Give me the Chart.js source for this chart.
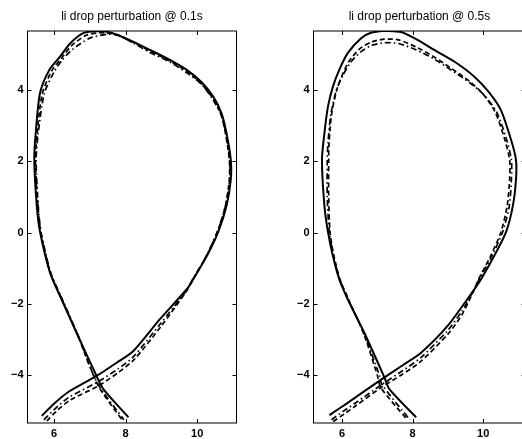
<!DOCTYPE html>
<html>
<head>
<meta charset="utf-8">
<script src="https://cdn.jsdelivr.net/npm/chart.js@4/dist/chart.umd.min.js"></script>
<style>
  html, body { margin: 0; padding: 0; background: #fff; overflow: hidden; }
  body { width: 522px; height: 439px; position: relative; }
  .panel { position: absolute; top: 0; height: 439px; }
</style>
</head>
<body>
<div class="panel" id="p1" style="left:0px; width:245px;"><canvas id="c1"></canvas></div>
<div class="panel" id="p2" style="left:286px; width:245px;"><canvas id="c2"></canvas></div>
<script>
// plasma boundary, [R, Z] pairs, traced from the lower left leg round the X-point
var titles = ["li drop perturbation @ 0.1s", "li drop perturbation @ 0.5s"];
var xTicks = [6, 8, 10];
var yTicks = [-4, -2, 0, 2, 4];

var solid01 = [
  [5.66, -5.14], [6.0, -4.8], [6.4, -4.47], [7.19, -4.02], [7.75, -3.65], [8.22, -3.32],
  [8.96, -2.43], [9.71, -1.59], [9.89, -1.31], [10.27, -0.66], [10.59, 0.02], [10.82, 0.74],
  [10.94, 1.48], [10.94, 2.04], [10.82, 2.79], [10.68, 3.35], [10.45, 3.81], [10.12, 4.22],
  [9.71, 4.56], [9.2, 4.86], [8.68, 5.12], [8.1, 5.4], [7.6, 5.6], [7.2, 5.64], [6.82, 5.59],
  [6.45, 5.3], [6.17, 4.93], [5.87, 4.56], [5.61, 3.91], [5.49, 2.79], [5.45, 2.04],
  [5.52, 0.74], [5.61, 0.02], [5.89, -1.13], [6.17, -1.78], [6.63, -2.81], [7.19, -4.02],
  [7.38, -4.39], [8.08, -5.18]
];
var dashed01 = [
  [5.8, -5.28], [6.1, -4.98], [6.45, -4.7], [7.24, -4.3], [7.8, -3.92], [8.25, -3.55],
  [9.0, -2.62], [9.7, -1.65], [9.88, -1.33], [10.25, -0.68], [10.56, 0.0], [10.79, 0.74],
  [10.9, 1.48], [10.9, 2.04], [10.79, 2.79], [10.66, 3.33], [10.43, 3.78], [10.1, 4.19],
  [9.7, 4.53], [9.2, 4.83], [8.7, 5.08], [8.15, 5.36], [7.7, 5.56], [7.3, 5.6], [6.9, 5.53],
  [6.5, 5.25], [6.22, 4.9], [5.93, 4.52], [5.67, 3.88], [5.53, 2.79], [5.48, 2.04],
  [5.55, 0.74], [5.63, 0.0], [5.9, -1.13], [6.18, -1.78], [6.65, -2.85], [7.24, -4.3],
  [7.9, -5.25]
];
var dashdot01 = [
  [5.72, -5.25], [6.05, -4.92], [6.42, -4.62], [7.2, -4.2], [7.78, -3.83], [8.22, -3.48],
  [8.98, -2.55], [9.7, -1.63], [9.87, -1.32], [10.25, -0.67], [10.56, 0.01], [10.79, 0.74],
  [10.91, 1.48], [10.91, 2.04], [10.8, 2.79], [10.66, 3.33], [10.42, 3.76], [10.1, 4.18],
  [9.68, 4.5], [9.2, 4.8], [8.68, 5.05], [8.2, 5.32], [7.8, 5.53], [7.5, 5.56], [7.0, 5.45],
  [6.5, 5.12], [6.2, 4.8], [6.0, 4.5], [5.73, 3.9], [5.56, 2.79], [5.5, 2.04], [5.56, 0.74],
  [5.64, 0.0], [5.91, -1.13], [6.2, -1.8], [6.66, -2.85], [7.2, -4.2], [7.95, -5.25]
];

var solid05 = [
  [5.64, -5.12], [6.05, -4.85], [6.44, -4.58], [7.2, -4.06], [7.75, -3.7], [8.24, -3.37],
  [8.99, -2.62], [9.75, -1.59], [9.94, -1.31], [10.31, -0.66], [10.65, 0.02], [10.84, 0.74],
  [10.93, 1.48], [10.93, 2.04], [10.79, 2.6], [10.5, 3.44], [10.15, 3.95], [9.75, 4.37],
  [9.2, 4.78], [8.61, 5.12], [8.1, 5.42], [7.67, 5.62], [7.2, 5.66], [6.82, 5.6], [6.54, 5.45],
  [6.16, 5.03], [5.92, 4.56], [5.74, 4.09], [5.6, 3.53], [5.5, 2.79], [5.43, 2.04],
  [5.5, 0.74], [5.6, 0.02], [5.74, -0.66], [5.92, -1.31], [6.16, -1.87], [6.63, -2.81],
  [7.2, -4.06], [7.34, -4.39], [8.1, -5.18]
];
var dashed05 = [
  [5.75, -5.3], [6.1, -5.06], [6.4, -4.85], [7.1, -4.35], [7.7, -3.98], [8.2, -3.64],
  [9.0, -2.85], [9.4, -2.3], [9.7, -1.7], [9.86, -1.33], [10.2, -0.68], [10.5, 0.0],
  [10.68, 0.74], [10.75, 1.48], [10.75, 2.04], [10.6, 2.65], [10.33, 3.4], [9.98, 3.9],
  [9.6, 4.25], [9.1, 4.6], [8.6, 4.93], [8.1, 5.2], [7.6, 5.4], [7.2, 5.42], [6.85, 5.35],
  [6.5, 5.15], [6.2, 4.8], [6.02, 4.45], [5.85, 4.0], [5.7, 3.3], [5.63, 2.5], [5.62, 2.0],
  [5.62, 1.0], [5.66, 0.0], [5.77, -0.66], [5.94, -1.31], [6.18, -1.87], [6.62, -2.85],
  [7.0, -4.0], [7.1, -4.35], [7.85, -5.25]
];
var dashdot05 = [
  [5.7, -5.25], [6.05, -5.0], [6.42, -4.75], [7.13, -4.26], [7.72, -3.87], [8.22, -3.52],
  [9.0, -2.74], [9.4, -2.2], [9.72, -1.65], [9.88, -1.32], [10.24, -0.67], [10.55, 0.01],
  [10.74, 0.74], [10.8, 1.48], [10.8, 2.04], [10.65, 2.65], [10.38, 3.38], [10.02, 3.86],
  [9.62, 4.2], [9.1, 4.55], [8.6, 4.87], [8.1, 5.12], [7.6, 5.3], [7.2, 5.32], [6.85, 5.25],
  [6.55, 5.08], [6.25, 4.78], [6.03, 4.42], [5.84, 4.0], [5.68, 3.3], [5.6, 2.5], [5.58, 2.0],
  [5.58, 1.0], [5.64, 0.0], [5.76, -0.66], [5.93, -1.31], [6.17, -1.86], [6.62, -2.83],
  [7.05, -3.98], [7.13, -4.26], [7.92, -5.25]
];

var xRanges = [[5.26, 11.1], [5.19, 11.2]];
var yRange = [-5.34, 5.65];

var fontFamily = "'Liberation Sans', Arial, Helvetica, sans-serif";

function pts(arr) {
  return arr.map(p => ({ x: p[0], y: p[1] }));
}

function lineSet(arr, dash, width) {
  return {
    data: pts(arr),
    showLine: true,
    borderColor: "#000",
    borderWidth: width,
    borderDash: dash,
    pointRadius: 0,
    tension: 0.25,
    fill: false,
  };
}

var frame = {
  id: "frame",
  afterDraw(chart, args, opts) {
    var ctx = chart.ctx;
    var a = chart.chartArea;
    var xs = chart.scales.x;
    var ys = chart.scales.y;
    ctx.save();
    ctx.strokeStyle = "#000";
    ctx.lineWidth = 1;
    ctx.strokeRect(a.left, a.top, a.right - a.left, a.bottom - a.top);
    ctx.beginPath();
    xTicks.forEach(v => {
      var px = Math.round(xs.getPixelForValue(v)) + 0.5;
      ctx.moveTo(px, a.bottom); ctx.lineTo(px, a.bottom - 4);
      ctx.moveTo(px, a.top); ctx.lineTo(px, a.top + 4);
    });
    yTicks.forEach(v => {
      var py = Math.round(ys.getPixelForValue(v)) + 0.5;
      ctx.moveTo(a.left, py); ctx.lineTo(a.left + 4, py);
      ctx.moveTo(a.right, py); ctx.lineTo(a.right - 4, py);
    });
    ctx.stroke();
    ctx.fillStyle = "#000";
    ctx.font = "12px " + fontFamily;
    ctx.textAlign = "center";
    ctx.textBaseline = "middle";
    ctx.fillText(opts.text, (a.left + a.right) / 2, 17);
    ctx.restore();
  }
};

function makeChart(id, idx, sets, padRight) {
  var ctx = document.getElementById(id).getContext("2d");
  return new Chart(ctx, {
    type: "scatter",
    data: { datasets: sets },
    options: {
      responsive: true,
      maintainAspectRatio: false,
      animation: false,
      layout: { padding: { top: 31, right: padRight, left: 0, bottom: 0 } },
      plugins: {
        legend: { display: false },
        tooltip: { enabled: false },
        title: { display: false },
        frame: { text: titles[idx] },
      },
      scales: {
        x: {
          type: "linear",
          min: xRanges[idx][0],
          max: xRanges[idx][1],
          grid: { display: false, drawTicks: false },
          border: { display: false },
          afterBuildTicks: s => { s.ticks = xTicks.map(v => ({ value: v })); },
          afterFit: s => { s.height = 16; },
          ticks: {
            color: "#000",
            padding: 4,
            font: { family: fontFamily, size: 11, weight: "bold" },
            callback: v => String(v),
          },
        },
        y: {
          type: "linear",
          min: yRange[0],
          max: yRange[1],
          grid: { display: false, drawTicks: false },
          border: { display: false },
          afterBuildTicks: s => { s.ticks = yTicks.map(v => ({ value: v })); },
          afterFit: s => { s.width = 27.5; },
          ticks: {
            color: "#000",
            padding: 4,
            font: { family: fontFamily, size: 11, weight: "bold" },
            callback: v => (v < 0 ? "\u2212" + Math.abs(v) : String(v)),
          },
        },
      },
    },
    plugins: [frame],
  });
}

makeChart("c1", 0, [
  lineSet(dashdot01, [6, 3, 1.5, 3], 1.7),
  lineSet(dashed01, [5, 3], 1.7),
  lineSet(solid01, [], 2),
], 8.5);

makeChart("c2", 1, [
  lineSet(dashdot05, [6, 3, 1.5, 3], 1.7),
  lineSet(dashed05, [5, 3], 1.7),
  lineSet(solid05, [], 2),
], 5.5);
</script>
</body>
</html>
